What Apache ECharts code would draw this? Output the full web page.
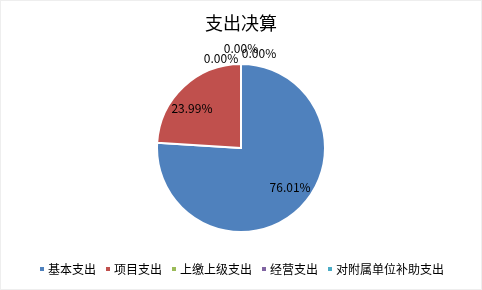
<!DOCTYPE html>
<html>
<head>
<meta charset="utf-8">
<script src="https://cdn.jsdelivr.net/npm/echarts@6/dist/echarts.min.js"></script>
<style>
  html, body { margin: 0; padding: 0; background: #fff; }
  #chart { width: 480px; height: 288px; border: 1px solid #eeeeee; }
</style>
</head>
<body>
<div id="chart"></div>
<script>
const categories = ['基本支出', '项目支出', '上缴上级支出', '经营支出', '对附属单位补助支出']
const values = [76.01, 23.99, 0, 0, 0]
const colors = ['#4F81BD', '#C0504D', '#9BBB59', '#8064A2', '#4BACC6']

const font = '"Noto Sans CJK SC", "Liberation Sans", sans-serif'
const pieData = categories.map((name, i) => ({ name, value: values[i] }))

const fmt = (p) => p.percent.toFixed(2) + '%'

// where the three 0.00% labels sit, so they fan out like the original
const zeroLabelPos = { 2: [220, 57], 3: [240, 47], 4: [258, 52] }

const echart = echarts.init(document.getElementById('chart'))
const option = {
  color: colors,
  animation: false,
  title: {
    text: '支出决算',
    left: 'center',
    top: 8,
    textStyle: {
      fontFamily: font,
      fontSize: 18,
      fontWeight: 'normal',
      color: '#000'
    }
  },
  legend: {
    data: categories,
    bottom: 9,
    left: 'center',
    icon: 'rect',
    itemWidth: 6,
    itemHeight: 6,
    itemGap: 8,
    textStyle: {
      fontFamily: font,
      fontSize: 12,
      color: '#000',
      padding: [0, 0, 0, -2]
    }
  },
  series: [
    {
      type: 'pie',
      center: [240, 147],
      radius: [0, 84],
      startAngle: 90,
      silent: true,
      label: { show: false },
      labelLine: { show: false },
      itemStyle: {
        borderColor: '#fff',
        borderWidth: 2
      },
      data: pieData
    },
    {
      // label layer only
      type: 'pie',
      center: [240, 147],
      radius: [36, 84],
      startAngle: 98,
      silent: true,
      avoidLabelOverlap: false,
      itemStyle: { color: 'transparent' },
      label: {
        show: true,
        position: 'inside',
        formatter: fmt,
        fontFamily: font,
        fontSize: 12,
        color: '#000'
      },
      labelLine: { show: false },
      labelLayout: (p) => {
        const pos = zeroLabelPos[p.dataIndex]
        if (!pos) return {}
        return { x: pos[0], y: pos[1], align: 'center', verticalAlign: 'middle' }
      },
      data: pieData.map((d) => d.value === 0
        ? {
            ...d,
            label: { position: 'outside' },
            labelLine: { show: false }
          }
        : d)
    }
  ]
}
echart && echart.setOption(option)
</script>
</body>
</html>
